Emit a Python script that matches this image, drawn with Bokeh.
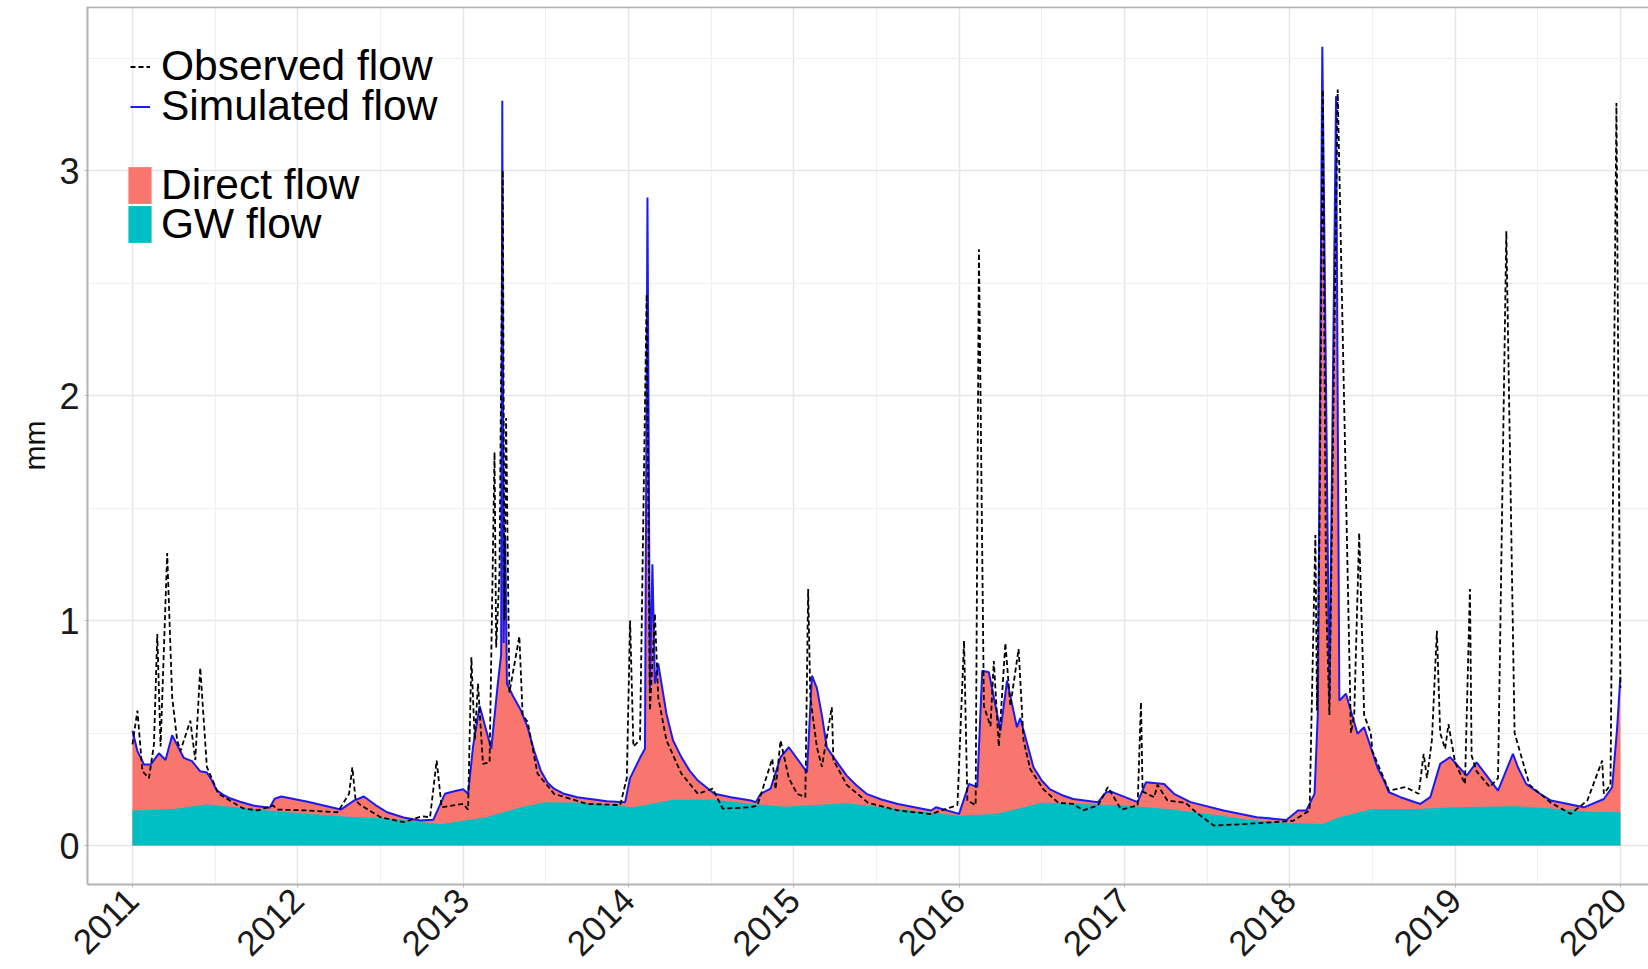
import math
from bokeh.plotting import figure
from bokeh.models import Range1d, FixedTicker, Legend, LegendItem, Span
from bokeh.embed import file_html
from bokeh.resources import INLINE

# ---------------- data (decimal years, mm) ----------------
years = [2011, 2012, 2013, 2014, 2015, 2016, 2017, 2018, 2019, 2020]
year_labels = ["2011", "2012", "2013", "2014", "2015", "2016", "2017", "2018", "2019", "2020"]
y_ticks = [0, 1, 2, 3]
y_labels = ["0", "1", "2", "3"]

sim_t = [2011.00, 2011.03, 2011.07, 2011.11, 2011.16, 2011.20, 2011.24, 2011.31, 2011.36, 2011.41,
         2011.45, 2011.48, 2011.51, 2011.55, 2011.59, 2011.65, 2011.73, 2011.83, 2011.86, 2011.90,
         2012.06, 2012.26, 2012.34, 2012.40, 2012.47, 2012.54, 2012.64, 2012.74, 2012.82, 2012.89,
         2012.94, 2013.00, 2013.03, 2013.06, 2013.10, 2013.17, 2013.21, 2013.23, 2013.237, 2013.245,
         2013.255, 2013.265, 2013.30, 2013.35, 2013.39, 2013.43, 2013.47, 2013.51, 2013.55, 2013.61,
         2013.69, 2013.87, 2013.98, 2014.01, 2014.07, 2014.10, 2014.115, 2014.13, 2014.145, 2014.16,
         2014.18, 2014.23, 2014.27, 2014.32, 2014.37, 2014.42, 2014.52, 2014.62, 2014.74, 2014.77,
         2014.80, 2014.86, 2014.92, 2014.97, 2015.08, 2015.11, 2015.14, 2015.17, 2015.20, 2015.24,
         2015.32, 2015.38, 2015.44, 2015.53, 2015.63, 2015.83, 2015.86, 2016.00, 2016.06, 2016.11,
         2016.14, 2016.18, 2016.25, 2016.29, 2016.35, 2016.37, 2016.45, 2016.50, 2016.55, 2016.62,
         2016.69, 2016.84, 2016.89, 2016.92, 2017.08, 2017.13, 2017.24, 2017.30, 2017.40, 2017.60,
         2017.80, 2017.98, 2018.05, 2018.10, 2018.15, 2018.17, 2018.197, 2018.24, 2018.28, 2018.30,
         2018.34, 2018.41, 2018.45, 2018.49, 2018.53, 2018.57, 2018.60, 2018.67, 2018.79, 2018.85,
         2018.91, 2018.97, 2019.07, 2019.13, 2019.26, 2019.35, 2019.38, 2019.43, 2019.50, 2019.58,
         2019.78, 2019.90, 2019.95, 2019.98, 2020.00]
sim_v = [0.51, 0.42, 0.36, 0.36, 0.41, 0.38, 0.49, 0.39, 0.375, 0.33,
         0.325, 0.29, 0.245, 0.225, 0.21, 0.195, 0.178, 0.168, 0.208, 0.218,
         0.195, 0.16, 0.20, 0.218, 0.18, 0.148, 0.125, 0.111, 0.115, 0.23,
         0.24, 0.25, 0.23, 0.44, 0.62, 0.43, 0.72, 0.85, 3.31, 0.90,
         1.37, 0.72, 0.667, 0.60, 0.526, 0.42, 0.333, 0.28, 0.253, 0.23,
         0.215, 0.197, 0.193, 0.30, 0.39, 0.43, 2.88, 0.70, 1.25, 0.72,
         0.81, 0.585, 0.467, 0.393, 0.333, 0.289, 0.23, 0.215, 0.20, 0.193,
         0.23, 0.253, 0.393, 0.437, 0.326, 0.755, 0.70, 0.58, 0.437, 0.393,
         0.311, 0.267, 0.23, 0.205, 0.185, 0.156, 0.17, 0.141, 0.274, 0.26,
         0.777, 0.77, 0.51, 0.733, 0.526, 0.567, 0.348, 0.289, 0.25, 0.225,
         0.207, 0.193, 0.237, 0.24, 0.193, 0.281, 0.274, 0.23, 0.193, 0.156,
         0.126, 0.114, 0.156, 0.156, 0.23, 0.59, 3.55, 0.644, 3.33, 0.644,
         0.675, 0.497, 0.526, 0.437, 0.348, 0.289, 0.237, 0.215, 0.185, 0.215,
         0.363, 0.393, 0.311, 0.37, 0.244, 0.408, 0.348, 0.274, 0.237, 0.20,
         0.17, 0.207, 0.259, 0.52, 0.75]

gw_t = [2011.00, 2011.25, 2011.45, 2011.65, 2011.90, 2012.30, 2012.55, 2012.86, 2013.14, 2013.35,
        2013.50, 2013.75, 2014.03, 2014.27, 2014.52, 2014.74, 2014.95, 2015.32, 2015.63, 2016.00,
        2016.23, 2016.50, 2017.00, 2017.26, 2017.50, 2017.75, 2018.00, 2018.20, 2018.30, 2018.50,
        2018.77, 2019.00, 2019.37, 2019.58, 2019.80, 2020.00]
gw_v = [0.156, 0.162, 0.182, 0.168, 0.15, 0.128, 0.12, 0.095, 0.126, 0.17,
        0.193, 0.19, 0.17, 0.204, 0.204, 0.185, 0.173, 0.188, 0.163, 0.133,
        0.141, 0.19, 0.178, 0.163, 0.141, 0.115, 0.10, 0.096, 0.126, 0.163,
        0.163, 0.17, 0.175, 0.165, 0.15, 0.148]

obs_t = [2011.00, 2011.03, 2011.06, 2011.10, 2011.13, 2011.15, 2011.17, 2011.21, 2011.24, 2011.27,
         2011.29, 2011.35, 2011.38, 2011.41, 2011.45, 2011.52, 2011.67, 2011.76, 2011.85, 2011.88,
         2012.06, 2012.24, 2012.31, 2012.33, 2012.35, 2012.38, 2012.50, 2012.64, 2012.75, 2012.80,
         2012.84, 2012.87, 2013.00, 2013.03, 2013.05, 2013.07, 2013.09, 2013.12, 2013.16, 2013.19,
         2013.20, 2013.22, 2013.24, 2013.25, 2013.26, 2013.28, 2013.34, 2013.36, 2013.39, 2013.45,
         2013.55, 2013.75, 2013.95, 2013.99, 2014.01, 2014.03, 2014.07, 2014.11, 2014.13, 2014.16,
         2014.18, 2014.23, 2014.32, 2014.42, 2014.51, 2014.57, 2014.74, 2014.78, 2014.87, 2014.89,
         2014.92, 2014.97, 2015.02, 2015.07, 2015.087, 2015.10, 2015.14, 2015.17, 2015.23, 2015.24,
         2015.32, 2015.45, 2015.63, 2015.83, 2015.99, 2016.03, 2016.05, 2016.10, 2016.12, 2016.15,
         2016.19, 2016.21, 2016.24, 2016.28, 2016.31, 2016.36, 2016.39, 2016.43, 2016.51, 2016.60,
         2016.69, 2016.75, 2016.84, 2016.90, 2016.98, 2017.08, 2017.10, 2017.11, 2017.18, 2017.20,
         2017.26, 2017.37, 2017.43, 2017.54, 2017.74, 2017.90, 2018.02, 2018.12, 2018.155, 2018.165,
         2018.18, 2018.20, 2018.22, 2018.24, 2018.29, 2018.37, 2018.39, 2018.42, 2018.44, 2018.45,
         2018.49, 2018.50, 2018.60, 2018.70, 2018.78, 2018.81, 2018.83, 2018.86, 2018.89, 2018.91,
         2018.94, 2018.96, 2019.00, 2019.06, 2019.09, 2019.10, 2019.13, 2019.21, 2019.26, 2019.31,
         2019.36, 2019.45, 2019.58, 2019.70, 2019.80, 2019.89, 2019.90, 2019.94, 2019.976, 2020.00]
obs_v = [0.45, 0.60, 0.33, 0.30, 0.45, 0.94, 0.44, 1.30, 0.66, 0.47,
         0.42, 0.555, 0.38, 0.79, 0.35, 0.23, 0.165, 0.156, 0.178, 0.16,
         0.156, 0.148, 0.23, 0.348, 0.20, 0.18, 0.126, 0.104, 0.13, 0.126,
         0.378, 0.17, 0.185, 0.16, 0.837, 0.47, 0.72, 0.363, 0.37, 1.748,
         0.88, 1.21, 3.00, 1.00, 1.90, 0.68, 0.93, 0.58, 0.55, 0.32,
         0.23, 0.185, 0.18, 0.30, 1.00, 0.44, 0.47, 2.45, 0.60, 1.03,
         0.66, 0.467, 0.32, 0.23, 0.253, 0.164, 0.17, 0.178, 0.386, 0.25,
         0.467, 0.30, 0.23, 0.215, 1.14, 0.66, 0.437, 0.35, 0.615, 0.38,
         0.27, 0.19, 0.156, 0.14, 0.18, 0.91, 0.20, 0.18, 2.65, 0.62,
         0.53, 0.82, 0.44, 0.90, 0.62, 0.874, 0.466, 0.34, 0.25, 0.19,
         0.185, 0.156, 0.178, 0.26, 0.16, 0.178, 0.637, 0.24, 0.215, 0.27,
         0.20, 0.19, 0.15, 0.089, 0.096, 0.104, 0.11, 0.156, 1.38, 0.60,
         1.39, 3.36, 1.09, 0.58, 3.36, 0.50, 0.58, 1.39, 0.87, 0.58,
         0.50, 0.42, 0.244, 0.26, 0.23, 0.408, 0.30, 0.47, 0.955, 0.50,
         0.43, 0.54, 0.37, 0.274, 1.14, 0.40, 0.33, 0.26, 0.30, 2.73,
         0.50, 0.27, 0.19, 0.141, 0.20, 0.378, 0.23, 0.27, 3.30, 0.70]

# ---------------- figure ----------------
FONT = "Liberation Sans"
p = figure(width=1648, height=969,
           x_range=Range1d(2010.728, 2020.17), y_range=Range1d(-0.173, 3.729),
           output_backend="svg", toolbar_location=None,
           min_border_left=87, min_border_right=0, min_border_top=6, min_border_bottom=85)
p.outline_line_color = None
p.background_fill_color = "white"
p.border_fill_color = "white"

direct_r = p.varea(x=sim_t, y1=0, y2=sim_v, fill_color="#F8766D")
gw_r = p.varea(x=gw_t, y1=0, y2=gw_v, fill_color="#00BFC4")
sim_r = p.line(sim_t, sim_v, line_color="#1A1AF5", line_width=2)
obs_r = p.line(obs_t, obs_v, line_color="black", line_width=1.8, line_dash="5 3")

# axes / ticks
p.xaxis.ticker = FixedTicker(ticks=years, minor_ticks=[y + 0.5 for y in years[:-1]])
p.yaxis.ticker = FixedTicker(ticks=y_ticks, minor_ticks=[0.5, 1.5, 2.5, 3.5])
p.xaxis.major_label_overrides = {y: s for y, s in zip(years, year_labels)}
p.yaxis.major_label_overrides = {y: s for y, s in zip(y_ticks, y_labels)}
p.xaxis.major_label_orientation = math.pi / 4
for ax in (p.xaxis[0], p.yaxis[0]):
    ax.axis_line_color = "#B3B3B3"
    ax.axis_line_width = 2
    ax.major_tick_line_color = "#B3B3B3"
    ax.major_tick_in = 0
    ax.major_tick_out = 3
    ax.minor_tick_line_color = None
    ax.major_label_text_font = FONT
    ax.major_label_text_color = "#1A1A1A"
p.xaxis.major_label_text_font_size = "35px"
p.xaxis.major_label_standoff = 6
p.yaxis.major_label_text_font_size = "36px"
p.yaxis.major_label_standoff = 4
p.yaxis.axis_label = "mm"
p.yaxis.axis_label_text_font = FONT
p.yaxis.axis_label_text_font_size = "30px"
p.yaxis.axis_label_text_font_style = "normal"
p.yaxis.axis_label_text_color = "#111111"
p.yaxis.axis_label_standoff = 5

for g in (p.xgrid[0], p.ygrid[0]):
    g.grid_line_color = "#E6E6E6"
    g.grid_line_width = 1.5
    g.minor_grid_line_color = "#F0F0F0"
    g.minor_grid_line_width = 1

top_border = Span(location=3.726, dimension="width", line_color="#B3B3B3", line_width=2)
p.add_layout(top_border)

# legends: one entry per legend box, stacked as in the reference
entries = [("Observed flow", obs_r, 43, 794, 20, 37, 11),
           ("Simulated flow", sim_r, 43, 754, 20, 37, 11),
           ("Direct flow", direct_r, 38, 675, 29, 46, 7),
           ("GW flow", gw_r, 38, 636, 29, 46, 7)]
for label, rend, lx, ly, gwid, ghei, stand in entries:
    lg = Legend(items=[LegendItem(label=label, renderers=[rend])], location=(lx, ly))
    lg.glyph_width = gwid
    lg.glyph_height = ghei
    lg.label_standoff = stand
    lg.label_text_font = FONT
    lg.label_text_font_size = "42.5px"
    lg.label_text_color = "black"
    lg.label_height = 37
    lg.spacing = 0
    lg.padding = 0
    lg.margin = 0
    lg.border_line_color = None
    lg.background_fill_alpha = 0
    p.add_layout(lg)

open("out.html", "w").write(file_html(p, INLINE))
